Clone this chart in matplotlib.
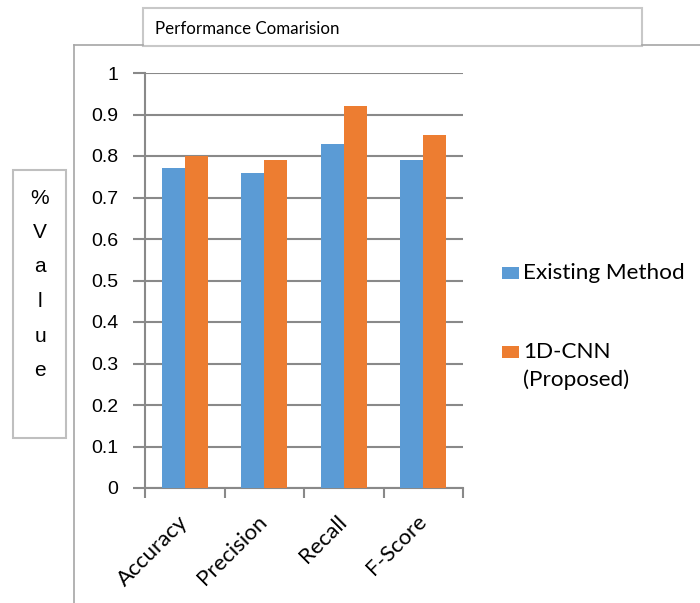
import matplotlib
matplotlib.use("Agg")
from matplotlib import pyplot as plt
from matplotlib.patches import Rectangle
from matplotlib.lines import Line2D
import numpy as np

categories = ["Accuracy", "Precision", "Recall", "F-Score"]
existing = [0.77, 0.76, 0.83, 0.79]
proposed = [0.80, 0.79, 0.92, 0.85]
series_names = ["Existing Method", "1D-CNN\n(Proposed)"]
series_colors = ["#5b9bd5", "#ed7d31"]
y_ticks = [0, 0.1, 0.2, 0.3, 0.4, 0.5, 0.6, 0.7, 0.8, 0.9, 1]
title = "Performance Comarision"
y_label = "%Value"

W, H = 700, 603
fig = plt.figure(figsize=(W / 100, H / 100), dpi=100)


def fx(px):
    return px / W


def fy(py):
    return 1 - py / H


grey = "#898989"

# plot area
ax = fig.add_axes([fx(145), fy(488), fx(463) - fx(145), fy(73) - fy(488)])
x = np.arange(len(categories))
bw = 0.29
ax.bar(x - bw / 2, existing, bw, color=series_colors[0], zorder=3)
ax.bar(x + bw / 2, proposed, bw, color=series_colors[1], zorder=3)

ax.set_xlim(-0.5, len(categories) - 0.5)
ax.set_ylim(0, 1)
ax.set_yticks(y_ticks)
ax.set_yticklabels([("%g" % v) for v in y_ticks],
                   fontfamily="Liberation Sans", fontsize=14)
ax.yaxis.grid(True, color=grey, linewidth=1.5, zorder=0)
ax.tick_params(axis="y", length=9, width=1.5, color=grey, pad=10)

# category boundaries get the ticks, names sit between them
ax.set_xticks(np.arange(len(categories) + 1) - 0.5)
ax.set_xticklabels([])
ax.tick_params(axis="x", which="major", length=7, width=1.5, color=grey)
ax.set_xticks(x, minor=True)
ax.set_xticklabels(categories, minor=True, rotation=45, ha="right",
                   va="center", rotation_mode="anchor",
                   fontfamily="Lato", fontsize=16)
ax.tick_params(axis="x", which="minor", length=0, pad=22)

for side in ["top", "right"]:
    ax.spines[side].set_visible(False)
for side in ["left", "bottom"]:
    ax.spines[side].set_color(grey)
    ax.spines[side].set_linewidth(1.5)

# outer chart frame
frame_col = "#a6a6a6"
fig.add_artist(Line2D([fx(74), fx(74)], [fy(45), 0], color=frame_col, lw=1.2))
fig.add_artist(Line2D([fx(74), fx(143)], [fy(45), fy(45)], color=frame_col, lw=1.2))
fig.add_artist(Line2D([fx(642), 1], [fy(45), fy(45)], color=frame_col, lw=1.2))

# title box
fig.add_artist(Rectangle((fx(143), fy(46)), fx(642) - fx(143), fy(8) - fy(46),
                         transform=fig.transFigure, facecolor="white",
                         edgecolor="#c8c8c8", lw=1.5))
fig.text(fx(155), fy(29), title, fontfamily="Lato", fontsize=12.2,
         va="center", ha="left")

# y label box with stacked letters
fig.add_artist(Rectangle((fx(13), fy(438)), fx(66) - fx(13), fy(170) - fy(438),
                         transform=fig.transFigure, facecolor="white",
                         edgecolor="#bfbfbf", lw=1.5))
for i, ch in enumerate(y_label):
    fig.text(fx(40), fy(198 + i * 34.5), ch, fontfamily="Liberation Sans",
             fontsize=15, ha="center", va="center")

# legend
leg_y = [273, 352]
for name, col, ly in zip(series_names, series_colors, leg_y):
    fig.add_artist(Rectangle((fx(502), fy(ly + 6)), fx(519) - fx(502), fy(ly - 6) - fy(ly + 6),
                             transform=fig.transFigure, facecolor=col, edgecolor="none"))
    for j, line in enumerate(name.split("\n")):
        fig.text(fx(523), fy(ly + j * 28), line, fontfamily="Lato", fontsize=16.2,
                 ha="left", va="center")

fig.savefig("out.png", dpi=100)
